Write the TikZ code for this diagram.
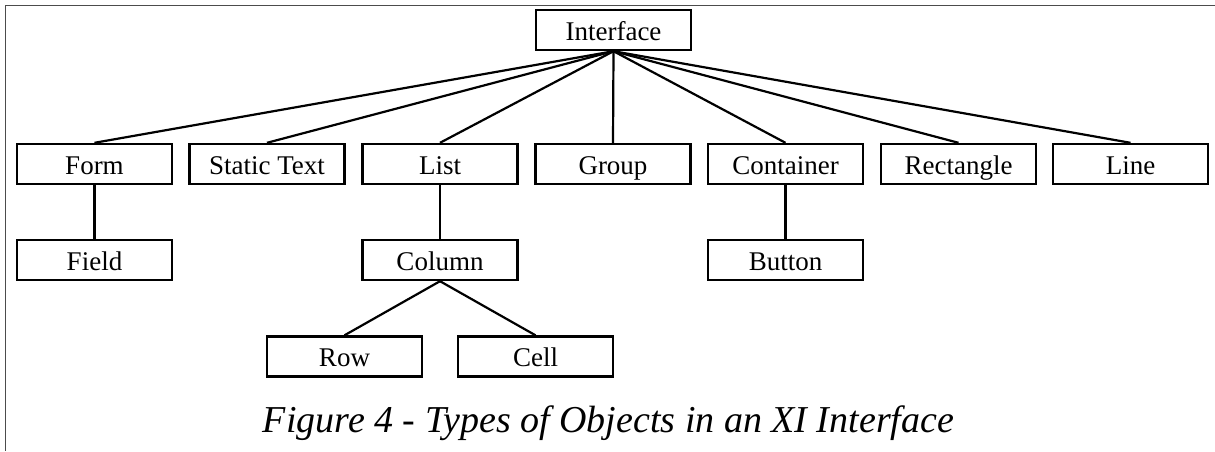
\documentclass[tikz,border=0pt]{standalone}
\usepackage{fontspec}
\setmainfont{Liberation Serif}
\usetikzlibrary{positioning}

\tikzset{
	objbox/.style={draw, line width=1.2pt, minimum width=77.5pt, minimum height=20pt, inner sep=0pt, text height=12pt, text depth=2pt, font=\fontsize{13.5}{16}\selectfont},
	link/.style={line width=1.1pt}
}

\begin{document}
\begin{tikzpicture}[x=0.5pt,y=-0.5pt]
	\useasboundingbox (0,0) rectangle (1215,451);
	\draw[line width=0.8pt, black!70] (1215,5.5) -- (5.5,5.5) -- (5.5,451);
	
	\node[objbox] (interface) at (613.5,30) {Interface};
	
	\node[objbox] (form) at (94.5,164) {Form};
	\node[objbox] (static) at (267,164) {Static Text};
	\node[objbox] (list) at (440,164) {List};
	\node[objbox] (group) at (613,164) {Group};
	\node[objbox] (container) at (785.5,164) {Container};
	\node[objbox] (rect) at (958.5,164) {Rectangle};
	\node[objbox] (line) at (1130.5,164) {Line};
	
	\node[objbox] (field) at (94.5,260) {Field};
	\node[objbox] (column) at (440,260) {Column};
	\node[objbox] (button) at (785.5,260) {Button};
	
	\node[objbox] (row) at (344.5,356.5) {Row};
	\node[objbox] (cell) at (535.5,356.5) {Cell};
	
	\foreach \n in {form,static,list,group,container,rect,line}
		\draw[link] (interface.south) -- (\n.north);
	
	\draw[link] (form) -- (field);
	\draw[link] (list) -- (column);
	\draw[link] (container) -- (button);
	\draw[link] (column.south) -- (row.north);
	\draw[link] (column.south) -- (cell.north);
	
	\node[anchor=base, font=\fontsize{19}{23}\selectfont\itshape] (caption) at (608.5,432) {Figure 4 - Types of Objects in an XI Interface};
\end{tikzpicture}
\end{document}
